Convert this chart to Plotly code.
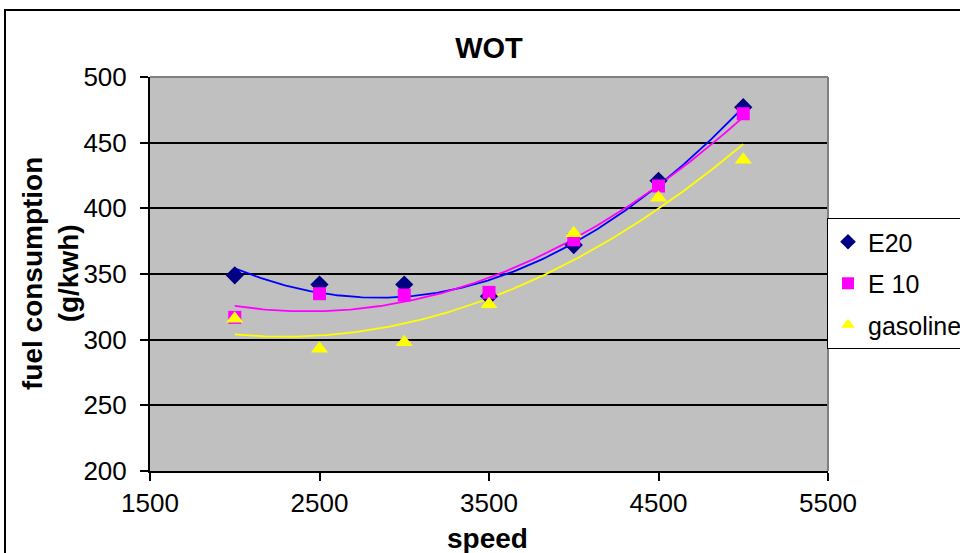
import numpy as np
import plotly.graph_objects as go

speed = [2000, 2500, 3000, 3500, 4000, 4500, 5000]
e20 = [349, 342, 342, 333, 372, 421, 477]
e10 = [317, 335, 334, 336, 376, 417, 472]
gasoline = [316, 293, 298, 327, 381, 408, 437]

series = [
    ("E20", e20, "#000080", "diamond", "#0000FF", 14),
    ("E 10", e10, "#FF00FF", "square", "#FF00FF", 13),
    ("gasoline", gasoline, "#FFFF00", "triangle-up", "#FFFF00", 15),
]

FONT = "Liberation Sans, Arial, sans-serif"
L, R, T, B = 150, 828, 77, 471
PW, PH = R - L, B - T

fig = go.Figure()

xs = np.linspace(min(speed), max(speed), 200)
for name, ys, mcol, sym, lcol, ms in series:
    coef = np.polyfit(speed, ys, 2)
    fig.add_trace(go.Scatter(x=xs, y=np.polyval(coef, xs), mode="lines",
                             line=dict(color=lcol, width=1.8), showlegend=False,
                             hoverinfo="skip"))
for name, ys, mcol, sym, lcol, ms in series:
    fig.add_trace(go.Scatter(x=speed, y=ys, mode="markers", name=name,
                             legendgroup=name,
                             marker=dict(symbol=sym, color=mcol, size=ms,
                                         line=dict(width=0))))

fig.update_layout(
    width=960, height=553,
    margin=dict(l=L, r=960 - R, t=T, b=553 - B, autoexpand=False),
    paper_bgcolor="white", plot_bgcolor="#C0C0C0",
    font=dict(family=FONT, color="black"),
    title=dict(text="<b>WOT</b>", x=489 / 960, xanchor="center",
               y=1 - 48 / 553, yanchor="middle", font=dict(size=29)),
    xaxis=dict(range=[1500, 5500], tickvals=[1500, 2500, 3500, 4500, 5500],
               showgrid=False, zeroline=False, showline=True, linecolor="black",
               linewidth=2, ticks="outside", ticklen=8, tickwidth=2, tickcolor="black",
               tickfont=dict(size=26)),
    yaxis=dict(range=[200, 500], tickvals=[200, 250, 300, 350, 400, 450, 500],
               showgrid=True, gridcolor="black", gridwidth=2, zeroline=False,
               showline=True, linecolor="black", linewidth=2, ticks="outside",
               ticklen=8, tickwidth=2, tickcolor="black", tickfont=dict(size=26),
               ticklabelstandoff=8),
    legend=dict(x=(827 - L) / PW, y=(B - 218) / PH, xanchor="left", yanchor="top",
                bgcolor="white", bordercolor="black", borderwidth=1,
                font=dict(size=25), itemsizing="constant",
                traceorder="grouped", tracegroupgap=6),
    showlegend=True,
)

fig.add_annotation(text="<b>fuel consumption<br>(g/kwh)</b>", xref="paper", yref="paper",
                   x=(50 - L) / PW, y=(B - 274) / PH, xanchor="center", yanchor="middle",
                   textangle=-90, showarrow=False, font=dict(size=28))
fig.add_annotation(text="<b>speed</b>", xref="paper", yref="paper",
                   x=(487 - L) / PW, y=(B - 538) / PH, xanchor="center", yanchor="middle",
                   showarrow=False, font=dict(size=28))

# plot area gray top/right border
fig.add_shape(type="line", xref="paper", yref="paper", x0=0, x1=1, y0=1, y1=1,
              line=dict(color="#808080", width=2))
fig.add_shape(type="line", xref="paper", yref="paper", x0=1, x1=1, y0=0, y1=1,
              line=dict(color="#808080", width=2))
# chart area border
fig.add_shape(type="rect", xref="paper", yref="paper",
              x0=(5 - L) / PW, x1=2.0, y0=-1.0, y1=(B - 10) / PH,
              line=dict(color="black", width=2), layer="below")

fig.write_html("out.html")
